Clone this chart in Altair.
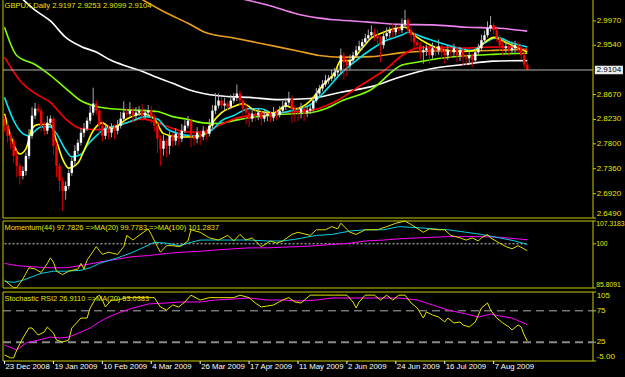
import altair as alt
import pandas as pd

# ---------------- data ----------------
close = [
    2.8120, 2.7942, 2.7854, 2.7587, 2.7410, 2.7232, 2.7321, 2.7587, 2.7942, 2.8298,
    2.8422, 2.8386, 2.8120, 2.8031, 2.8173, 2.8244, 2.7765, 2.7410, 2.7143, 2.6966,
    2.7054, 2.7285, 2.7498, 2.7676, 2.7818, 2.7996, 2.8067, 2.8209, 2.8351, 2.8511,
    2.8386, 2.8120, 2.7942, 2.8067, 2.7996, 2.8084, 2.8031, 2.8120, 2.8244, 2.8351,
    2.8330, 2.8386, 2.8298, 2.8351, 2.8386, 2.8298, 2.8351, 2.8386, 2.8280, 2.8120,
    2.7889, 2.7712, 2.7854, 2.7765, 2.7942, 2.7854, 2.7978, 2.7889, 2.8031, 2.8120,
    2.8209, 2.7942, 2.7889, 2.7996, 2.7925, 2.8031, 2.7978, 2.8120, 2.8386, 2.8475,
    2.8564, 2.8475, 2.8511, 2.8457, 2.8564, 2.8617, 2.8688, 2.8564, 2.8422, 2.8351,
    2.8244, 2.8333, 2.8298, 2.8351, 2.8244, 2.8298, 2.8333, 2.8262, 2.8351, 2.8315,
    2.8386, 2.8457, 2.8528, 2.8600, 2.8422, 2.8386, 2.8351, 2.8422, 2.8351, 2.8386,
    2.8422, 2.8564, 2.8688, 2.8777, 2.8848, 2.8919, 2.8955, 2.8990, 2.9061, 2.9097,
    2.9363, 2.9239, 2.9186, 2.9274, 2.9363, 2.9452, 2.9523, 2.9594, 2.9665, 2.9718,
    2.9772, 2.9718, 2.9665, 2.9541, 2.9701, 2.9754, 2.9807, 2.9772, 2.9843, 2.9807,
    2.9914, 2.9985, 2.9807, 2.9718, 2.9594, 2.9541, 2.9416, 2.9452, 2.9488, 2.9363,
    2.9488, 2.9452, 2.9523, 2.9416, 2.9363, 2.9452, 2.9416, 2.9488, 2.9363, 2.9452,
    2.9328, 2.9310, 2.9363, 2.9274, 2.9416, 2.9488, 2.9630, 2.9718, 2.9843, 2.9896,
    2.9807, 2.9665, 2.9541, 2.9488, 2.9523, 2.9452, 2.9488, 2.9541, 2.9505, 2.9363,
    2.9197, 2.9104,
]
open_first = 2.8240
wick_up = [
    0.006, 0.008, 0.005, 0.007, 0.010, 0.006, 0.008, 0.006, 0.012, 0.015,
    0.010, 0.008, 0.006, 0.007, 0.012, 0.006, 0.004, 0.006, 0.005, 0.006,
    0.008, 0.006, 0.005, 0.010, 0.006, 0.008, 0.010, 0.006, 0.012, 0.028,
    0.006, 0.004, 0.008, 0.010, 0.006, 0.008, 0.006, 0.010, 0.012, 0.020,
    0.008, 0.015, 0.006, 0.010, 0.008, 0.012, 0.006, 0.010, 0.008, 0.004,
    0.005, 0.006, 0.010, 0.004, 0.008, 0.006, 0.010, 0.004, 0.012, 0.010,
    0.008, 0.004, 0.006, 0.010, 0.004, 0.008, 0.006, 0.012, 0.010, 0.022,
    0.012, 0.006, 0.010, 0.005, 0.010, 0.008, 0.016, 0.006, 0.004, 0.008,
    0.006, 0.010, 0.006, 0.008, 0.004, 0.010, 0.006, 0.004, 0.010, 0.006,
    0.008, 0.010, 0.008, 0.012, 0.006, 0.006, 0.006, 0.010, 0.004, 0.008,
    0.006, 0.008, 0.010, 0.006, 0.008, 0.010, 0.006, 0.012, 0.008, 0.006,
    0.012, 0.006, 0.008, 0.010, 0.006, 0.008, 0.010, 0.006, 0.008, 0.010,
    0.012, 0.006, 0.010, 0.004, 0.008, 0.010, 0.006, 0.012, 0.008, 0.006,
    0.010, 0.018, 0.004, 0.006, 0.005, 0.004, 0.006, 0.008, 0.006, 0.004,
    0.010, 0.006, 0.012, 0.004, 0.006, 0.010, 0.004, 0.008, 0.004, 0.006,
    0.004, 0.006, 0.008, 0.004, 0.006, 0.008, 0.010, 0.008, 0.012, 0.016,
    0.004, 0.004, 0.006, 0.008, 0.010, 0.004, 0.012, 0.008, 0.006, 0.004,
    0.006, 0.0056,
]
wick_dn = [
    0.010, 0.012, 0.015, 0.012, 0.020, 0.015, 0.006, 0.008, 0.006, 0.005,
    0.006, 0.004, 0.010, 0.008, 0.006, 0.005, 0.015, 0.020, 0.018, 0.035,
    0.015, 0.006, 0.005, 0.008, 0.006, 0.005, 0.008, 0.004, 0.006, 0.005,
    0.008, 0.015, 0.010, 0.006, 0.012, 0.008, 0.015, 0.006, 0.005, 0.004,
    0.006, 0.005, 0.012, 0.008, 0.006, 0.010, 0.006, 0.008, 0.012, 0.010,
    0.025, 0.030, 0.012, 0.020, 0.015, 0.010, 0.008, 0.012, 0.006, 0.004,
    0.005, 0.020, 0.012, 0.008, 0.015, 0.006, 0.012, 0.005, 0.004, 0.006,
    0.005, 0.006, 0.008, 0.006, 0.004, 0.005, 0.006, 0.010, 0.012, 0.020,
    0.015, 0.006, 0.010, 0.008, 0.012, 0.006, 0.010, 0.008, 0.006, 0.010,
    0.005, 0.004, 0.006, 0.005, 0.025, 0.020, 0.015, 0.010, 0.015, 0.008,
    0.006, 0.005, 0.004, 0.006, 0.005, 0.004, 0.006, 0.005, 0.004, 0.006,
    0.006, 0.030, 0.020, 0.008, 0.006, 0.005, 0.004, 0.006, 0.005, 0.004,
    0.005, 0.010, 0.012, 0.030, 0.006, 0.005, 0.008, 0.010, 0.006, 0.008,
    0.005, 0.006, 0.008, 0.012, 0.015, 0.010, 0.012, 0.020, 0.010, 0.015,
    0.006, 0.010, 0.008, 0.012, 0.015, 0.008, 0.010, 0.006, 0.012, 0.010,
    0.015, 0.012, 0.010, 0.012, 0.006, 0.005, 0.004, 0.005, 0.004, 0.006,
    0.008, 0.006, 0.010, 0.012, 0.008, 0.010, 0.006, 0.008, 0.010, 0.008,
    0.006, 0.0005,
]

# moving averages on the price panel (bar index, price)
ma_yellow_i = [0, 2, 5, 7, 9, 11, 15, 17, 19, 21, 24, 26, 29, 32, 35, 40, 45, 49, 52, 57,
               62, 66, 68, 71, 75, 78, 82, 88, 92, 95, 100, 104, 108, 110, 113, 117, 120, 124, 128, 131,
               134, 138, 143, 150, 154, 157, 160, 164, 171]
ma_yellow_v = [2.833, 2.794, 2.762, 2.771, 2.807, 2.814, 2.814, 2.785, 2.753, 2.737,
               2.746, 2.768, 2.803, 2.817, 2.807, 2.824, 2.833, 2.824, 2.798, 2.792,
               2.792, 2.800, 2.817, 2.835, 2.846, 2.851, 2.839, 2.835, 2.847, 2.842,
               2.856, 2.883, 2.906, 2.927, 2.927, 2.949, 2.967, 2.977, 2.984, 2.986,
               2.972, 2.958, 2.947, 2.943, 2.945, 2.959, 2.968, 2.959, 2.942]
ma_cyan_i = [0, 3, 6, 8, 10, 12, 15, 17, 20, 22, 25, 27, 30, 33, 37, 42, 46, 50, 53, 57,
             62, 66, 68, 71, 75, 80, 84, 88, 95, 100, 105, 110, 115, 120, 125, 130, 132, 137, 145, 153,
             157, 161, 166, 171]
ma_cyan_v = [2.862, 2.821, 2.798, 2.794, 2.803, 2.810, 2.810, 2.798, 2.769, 2.757,
             2.761, 2.777, 2.794, 2.807, 2.812, 2.821, 2.828, 2.824, 2.807, 2.798,
             2.794, 2.798, 2.805, 2.821, 2.830, 2.842, 2.842, 2.833, 2.840, 2.849,
             2.874, 2.904, 2.927, 2.947, 2.963, 2.972, 2.977, 2.968, 2.954, 2.945,
             2.958, 2.968, 2.958, 2.951]
ma_red_i = [0, 5, 10, 15, 20, 25, 30, 35, 40, 45, 50, 55, 60, 65, 70, 75, 80, 90, 100, 105,
            110, 115, 120, 125, 130, 135, 140, 150, 160, 165, 171]
ma_red_v = [2.933, 2.892, 2.869, 2.853, 2.824, 2.807, 2.805, 2.810, 2.817, 2.824,
            2.817, 2.807, 2.801, 2.801, 2.812, 2.824, 2.830, 2.835, 2.839, 2.847,
            2.860, 2.878, 2.895, 2.913, 2.936, 2.949, 2.951, 2.949, 2.951, 2.951, 2.945]
ma_green_i = [0, 4, 10, 15, 20, 25, 30, 35, 40, 45, 50, 55, 60, 65, 70, 75, 80, 90, 100, 105,
              110, 120, 130, 135, 140, 150, 160, 171]
ma_green_v = [2.986, 2.936, 2.920, 2.901, 2.878, 2.856, 2.846, 2.842, 2.840, 2.839,
              2.837, 2.828, 2.823, 2.817, 2.816, 2.821, 2.826, 2.832, 2.835, 2.842,
              2.855, 2.876, 2.919, 2.924, 2.929, 2.935, 2.938, 2.940]
ma_white_i = [5, 10, 15, 20, 25, 30, 35, 40, 45, 50, 55, 60, 65, 70, 80, 90, 100, 110, 120, 130,
              140, 150, 160, 171]
ma_white_v = [3.040, 3.016, 2.997, 2.968, 2.952, 2.942, 2.927, 2.917, 2.908, 2.897,
              2.887, 2.876, 2.869, 2.865, 2.862, 2.858, 2.860, 2.871, 2.881, 2.899,
              2.913, 2.920, 2.926, 2.927]
ma_orange_i = [44, 53, 60, 66, 75, 86, 96, 103, 110, 120, 130, 140, 150, 160, 171]
ma_orange_v = [3.038, 3.011, 2.993, 2.976, 2.967, 2.955, 2.944, 2.936, 2.933, 2.934,
               2.941, 2.944, 2.944, 2.945, 2.947]
ma_pink_i = [76, 86, 96, 103, 108, 119, 129, 140, 151, 162, 171]
ma_pink_v = [3.038, 3.025, 3.009, 3.002, 2.999, 2.995, 2.991, 2.990, 2.986, 2.984, 2.979]

# momentum panel
mom_i = [0, 3, 4, 6, 8, 10, 12, 14, 15, 16, 17, 19, 21, 24, 25, 26, 27, 29, 30, 32,
         34, 37, 39, 40, 42, 44, 47, 48, 50, 51, 53, 55, 57, 58, 60, 61, 64, 67, 70, 73,
         75, 77, 79, 81, 84, 87, 89, 91, 94, 96, 100, 102, 105, 107, 109, 110, 113, 115, 118, 122,
         125, 128, 131, 133, 137, 139, 142, 144, 146, 149, 151, 153, 155, 156, 158, 159, 162, 164, 166, 168,
         171]
mom_v = [88.3, 85.9, 85.9, 88.7, 92.3, 91.9, 90.8, 93.7, 95.5, 94.1,
         91.2, 90.1, 91.2, 91.9, 93.7, 91.9, 94.8, 97.6, 99.1, 96.6,
         97.3, 96.6, 99.1, 102.7, 101.2, 102.7, 104.8, 103.0, 99.1, 97.3,
         99.4, 99.4, 99.1, 99.4, 100.9, 104.5, 103.7, 101.9, 101.2, 102.7,
         100.9, 103.0, 101.2, 101.9, 99.1, 100.9, 100.2, 100.9, 103.0, 103.7,
         102.7, 104.5, 104.5, 105.5, 104.8, 106.6, 103.7, 103.0, 104.5, 104.5,
         105.5, 106.6, 107.3, 106.2, 103.7, 104.8, 104.5, 104.5, 102.7, 101.9,
         101.2, 101.9, 100.9, 101.9, 103.0, 101.9, 100.2, 99.1, 98.4, 99.4,
         97.8]
mom_ma20_i = [0, 3, 6, 9, 12, 16, 20, 25, 28, 31, 37, 42, 46, 49, 53, 57, 60, 64, 69, 75,
              80, 86, 91, 96, 102, 107, 113, 118, 124, 129, 135, 140, 145, 151, 156, 162, 167, 171]
mom_ma20_v = [88.0, 87.6, 88.3, 89.4, 90.5, 91.2, 91.2, 91.5, 92.3, 93.7,
              95.5, 97.3, 99.1, 100.5, 100.2, 99.4, 100.2, 101.2, 101.2, 101.2,
              101.2, 100.9, 100.9, 101.6, 102.7, 103.0, 104.1, 104.5, 104.5, 105.5,
              105.2, 104.8, 104.5, 103.7, 103.0, 101.9, 100.9, 99.8]
mom_ma100_i = [0, 4, 9, 15, 20, 25, 31, 37, 42, 47, 53, 58, 64, 69, 75, 80, 86, 91, 96, 102,
               107, 113, 118, 124, 129, 135, 140, 145, 151, 156, 162, 171]
mom_ma100_v = [93.7, 93.0, 92.6, 92.3, 92.3, 93.0, 94.1, 95.1, 95.9, 96.2,
               96.9, 97.3, 97.6, 98.0, 98.4, 98.7, 98.7, 98.9, 99.1, 99.4,
               99.8, 100.2, 100.9, 101.2, 101.6, 101.9, 102.1, 102.3, 102.3, 102.3,
               102.1, 101.3]

# stochastic RSI panel
sto_i = [0, 2, 3, 4, 6, 8, 9, 11, 13, 14, 16, 17, 19, 21, 22, 25, 27, 28, 30, 31,
         32, 33, 35, 37, 40, 43, 46, 49, 51, 53, 55, 57, 59, 61, 64, 67, 70, 75, 77, 80,
         82, 84, 88, 91, 93, 95, 97, 100, 103, 105, 108, 112, 114, 115, 116, 118, 121, 123, 125, 127,
         129, 131, 133, 135, 137, 138, 140, 142, 144, 145, 147, 149, 150, 152, 154, 156, 158, 159, 161, 163,
         165, 166, 168, 169, 170, 171]
sto_v = [4.5, 0, 0, 12.5, 31.6, 47.6, 47.6, 36.4, 41.2, 49.2,
         39.6, 28.4, 25.3, 28.4, 47.6, 63.5, 63.5, 79.5, 96, 100,
         92.2, 81.1, 92.2, 92.2, 96, 96, 96, 96, 81.1, 76.3,
         84.3, 81.1, 89.1, 100, 92.2, 96, 96, 96, 100, 96,
         87.5, 81.1, 84.3, 92.2, 96, 89.1, 87.5, 100, 100, 100,
         100, 100, 89.1, 79.5, 89.1, 100, 100, 92.2, 100, 92.2,
         100, 100, 87.5, 79.5, 63.5, 73.1, 68.3, 65.1, 57.2, 63.5,
         55.6, 57.2, 52.4, 49.2, 57.2, 79.5, 87.5, 76.3, 63.5, 55.6,
         49.2, 44.4, 52.4, 49.2, 36.4, 26.9]
sto_ma_i = [0, 4, 7, 11, 15, 18, 21, 25, 28, 31, 34, 38, 42, 47, 53, 58, 64, 69, 75, 80,
            86, 91, 96, 102, 107, 118, 129, 135, 140, 145, 151, 155, 159, 162, 166, 171]
sto_ma_v = [20.5, 12.5, 23.7, 28.4, 33.2, 31.6, 33.2, 41.2, 47.6, 57.2,
            65.1, 73.1, 79.5, 85.9, 87.5, 89.1, 89.1, 92.2, 93.8, 95.4,
            92.2, 92.2, 90.6, 92.2, 95.4, 95.4, 95.4, 92.2, 84.3, 76.3,
            69.9, 65.1, 69.9, 66.7, 63.5, 53.0]

# texts and ticks
symbol_text = "GBPUX,Daily  2.9197 2.9253 2.9099 2.9104"
mom_text = "Momentum(44) 97.7826  =>MA(20) 99.7783  =>MA(100) 101.2837"
sto_text = "Stochastic RSI2 26.9110  =>MA(20) 53.0383"
date_labels = ["23 Dec 2008", "19 Jan 2009", "10 Feb 2009", "4 Mar 2009", "26 Mar 2009",
               "17 Apr 2009", "11 May 2009", "2 Jun 2009", "24 Jun 2009", "16 Jul 2009",
               "7 Aug 2009"]
date_step = 16
main_ticks = [2.9970, 2.9540, 2.8670, 2.8230, 2.7800, 2.7360, 2.6920, 2.6490]
main_tick_labels = ["2.9970", "2.9540", "2.8670", "2.8230", "2.7800", "2.7360", "2.6920", "2.6490"]
last_price = 2.9104
mom_ticks = [107.3183, 100, 85.8091]
mom_tick_labels = ["107.3183", "100", "85.8091"]
mom_level = 100
sto_ticks = [105, 75, 25, -5]
sto_tick_labels = ["105", "75", "25", "-5.00"]
sto_levels = [75, 25]

# ---------------- layout / style ----------------
FONT = "Liberation Sans"
TXT = "#e6e600"
FRAME = "#c8c800"
X_DOM = [-0.5, 192.5]
LBL_X = X_DOM[1] + 1.2      # axis label column (in bar units, right of the plot)
TICK_X2 = X_DOM[1] + 1.0    # end of the short axis ticks
MAIN_DOM, MAIN_RANGE = [2.6490, 3.0340], [218, 0]
MOM_DOM, MOM_RANGE = [85.8091, 107.3183], [288, 221]
STO_DOM, STO_RANGE = [-5, 105], [361, 292]
DATE_LBL_V = -14.4          # stochastic-scale position of the date labels (below the panel)
DATE_TICK_V = -9.8

xs = alt.Scale(domain=X_DOM, nice=False, zero=False, padding=0)


def X(field):
    return alt.X(f"{field}:Q", scale=xs, axis=None)


def yscale(dom, rng):
    return alt.Scale(domain=dom, range=rng, nice=False, zero=False)


ys_main = yscale(MAIN_DOM, MAIN_RANGE)
ys_mom = yscale(MOM_DOM, MOM_RANGE)
ys_sto = yscale(STO_DOM, STO_RANGE)


def Y(field, sc):
    return alt.Y(f"{field}:Q", scale=sc, axis=None)


def right_axis(values, labels, sc, top_flush=False, bottom_flush=False, size=8, lx=LBL_X):
    df = pd.DataFrame({"v": values, "t": labels, "x1": [X_DOM[1]] * len(values),
                       "x2": [TICK_X2] * len(values), "xl": [lx] * len(values)})
    parts = [alt.Chart(df).mark_rule(color=FRAME, strokeWidth=1).encode(
        x=X("x1"), x2="x2:Q", y=Y("v", sc))]
    n = len(df)
    lo = 1 if top_flush else 0
    hi = n - 1 if bottom_flush else n
    groups = [(df.iloc[lo:hi], "middle")]
    if top_flush:
        groups.append((df.iloc[[0]], "top"))
    if bottom_flush:
        groups.append((df.iloc[[n - 1]], "bottom"))
    for d, base in groups:
        parts.append(alt.Chart(d).mark_text(align="left", baseline=base, color=TXT, font=FONT,
                                            fontSize=size).encode(x=X("xl"), y=Y("v", sc), text="t:N"))
    return parts


# ---------------- price panel ----------------
opens = [open_first] + close[:-1]
cand = pd.DataFrame({"i": list(range(len(close))), "open": opens, "close": close})
cand["high"] = [max(o, c) + u for o, c, u in zip(opens, close, wick_up)]
cand["low"] = [min(o, c) - d for o, c, d in zip(opens, close, wick_dn)]
cand["bc"] = ["#ffffff" if c >= o else "#ff0000" for o, c in zip(opens, close)]
cand["wc"] = ["#a8a8a8" if c >= o else "#c80000" for o, c in zip(opens, close)]

ma_rows = []
for name, ii, vv, col in [
    ("pink", ma_pink_i, ma_pink_v, "#ee82ee"),
    ("orange", ma_orange_i, ma_orange_v, "#e8a020"),
    ("white", ma_white_i, ma_white_v, "#ffffff"),
    ("green", ma_green_i, ma_green_v, "#80ff00"),
    ("red", ma_red_i, ma_red_v, "#ff0000"),
    ("cyan", ma_cyan_i, ma_cyan_v, "#00e5ee"),
    ("yellow", ma_yellow_i, ma_yellow_v, "#ffff00"),
]:
    for a, b in zip(ii, vv):
        ma_rows.append({"name": name, "i": a, "v": b, "col": col})
ma_df = pd.DataFrame(ma_rows)

price_line = alt.Chart(pd.DataFrame({"x1": [X_DOM[0]], "x2": [X_DOM[1]], "p": [last_price]})).mark_rule(
    color="#b4b4b4", strokeWidth=1).encode(x=X("x1"), x2="x2:Q", y=Y("p", ys_main))

ma_lines = alt.Chart(ma_df).mark_line(strokeWidth=1.6, clip=True, interpolate="monotone").encode(
    x=X("i"), y=Y("v", ys_main), color=alt.Color("col:N", scale=None), detail="name:N", order="i:Q")

wicks = alt.Chart(cand).mark_rule(strokeWidth=1).encode(
    x=X("i"), y=Y("low", ys_main), y2="high:Q", color=alt.Color("wc:N", scale=None))

bodies = alt.Chart(cand).mark_bar(size=2.4).encode(
    x=X("i"), y=Y("open", ys_main), y2="close:Q", color=alt.Color("bc:N", scale=None))

main_frame = alt.Chart(pd.DataFrame({
    "x1": [X_DOM[0], X_DOM[0], X_DOM[1]], "x2": [X_DOM[0], X_DOM[1], X_DOM[1]],
    "y1": [MAIN_DOM[0], MAIN_DOM[0], MAIN_DOM[0]], "y2": [MAIN_DOM[1], MAIN_DOM[0], MAIN_DOM[1]],
})).mark_rule(color=FRAME, strokeWidth=1).encode(x=X("x1"), x2="x2:Q", y=Y("y1", ys_main), y2="y2:Q")

main_title = alt.Chart(pd.DataFrame({"x": [0.0], "y": [3.0235], "t": [symbol_text]})).mark_text(
    align="left", baseline="middle", color=TXT, font=FONT, fontSize=7.6).encode(
    x=X("x"), y=Y("y", ys_main), text="t:N")

box_df = pd.DataFrame({"x1": [X_DOM[1] + 0.6], "x2": [X_DOM[1] + 9.8], "y1": [last_price - 0.0075],
                       "y2": [last_price + 0.0075], "xt": [LBL_X], "p": [last_price],
                       "t": [f"{last_price:.4f}"]})
price_box = alt.Chart(box_df).mark_rect(color="#ececec").encode(
    x=X("x1"), x2="x2:Q", y=Y("y1", ys_main), y2="y2:Q")
price_box_txt = alt.Chart(box_df).mark_text(align="left", baseline="middle", color="black",
                                            font=FONT, fontSize=8).encode(
    x=X("xt"), y=Y("p", ys_main), text="t:N")

main = alt.layer(ma_lines, wicks, bodies, price_line, main_frame, main_title,
                 *right_axis(main_ticks, main_tick_labels, ys_main, bottom_flush=True),
                 price_box, price_box_txt)

# ---------------- momentum panel ----------------
mom_rows = []
for name, ii, vv, col in [
    ("ma100", mom_ma100_i, mom_ma100_v, "#ff00ff"),
    ("ma20", mom_ma20_i, mom_ma20_v, "#00d0e0"),
    ("mom", mom_i, mom_v, "#dede00"),
]:
    for a, b in zip(ii, vv):
        mom_rows.append({"name": name, "i": a, "v": b, "col": col})
mom_df = pd.DataFrame(mom_rows)

mom_frame = alt.Chart(pd.DataFrame({"x1": [X_DOM[0]], "x2": [X_DOM[1]],
                                    "y1": [MOM_DOM[0]], "y2": [MOM_DOM[1]]})).mark_rect(
    fillOpacity=0, stroke=FRAME, strokeWidth=1).encode(x=X("x1"), x2="x2:Q", y=Y("y1", ys_mom), y2="y2:Q")

mom_lvl = alt.Chart(pd.DataFrame({"x1": [0], "x2": [len(close) - 1], "v": [mom_level]})).mark_rule(
    color="#d0d0d0", strokeWidth=1, strokeDash=[2, 2]).encode(x=X("x1"), x2="x2:Q", y=Y("v", ys_mom))

mom_lines = alt.Chart(mom_df).mark_line(strokeWidth=1, clip=True).encode(
    x=X("i"), y=Y("v", ys_mom), color=alt.Color("col:N", scale=None), detail="name:N", order="i:Q")

mom_title = alt.Chart(pd.DataFrame({"x": [0.0], "y": [105.0], "t": [mom_text]})).mark_text(
    align="left", baseline="middle", color=TXT, font=FONT, fontSize=7.4).encode(
    x=X("x"), y=Y("y", ys_mom), text="t:N")

mom = alt.layer(mom_frame, mom_lvl, mom_lines, mom_title,
                *right_axis(mom_ticks, mom_tick_labels, ys_mom, top_flush=True, bottom_flush=True,
                            size=6.8, lx=X_DOM[1] + 1.05))

# ---------------- stochastic panel ----------------
sto_rows = []
for name, ii, vv, col in [
    ("ma", sto_ma_i, sto_ma_v, "#ff00ff"),
    ("sto", sto_i, sto_v, "#e6e600"),
]:
    for a, b in zip(ii, vv):
        sto_rows.append({"name": name, "i": a, "v": b, "col": col})
sto_df = pd.DataFrame(sto_rows)

sto_frame = alt.Chart(pd.DataFrame({"x1": [X_DOM[0]], "x2": [X_DOM[1]],
                                    "y1": [STO_DOM[0]], "y2": [STO_DOM[1]]})).mark_rect(
    fillOpacity=0, stroke=FRAME, strokeWidth=1).encode(x=X("x1"), x2="x2:Q", y=Y("y1", ys_sto), y2="y2:Q")

lvl_df = pd.DataFrame({"x1": [X_DOM[0]] * 2, "x2": [X_DOM[1]] * 2, "v": sto_levels})
sto_lvl_hi = alt.Chart(lvl_df.iloc[[0]]).mark_rule(
    color="#b0b0b0", strokeWidth=1, strokeDash=[8, 5]).encode(x=X("x1"), x2="x2:Q", y=Y("v", ys_sto))
sto_lvl_lo = alt.Chart(lvl_df.iloc[[1]]).mark_rule(
    color="#8a8a8a", strokeWidth=2, strokeDash=[8, 5]).encode(x=X("x1"), x2="x2:Q", y=Y("v", ys_sto))

sto_lines = alt.Chart(sto_df).mark_line(strokeWidth=1, clip=True).encode(
    x=X("i"), y=Y("v", ys_sto), color=alt.Color("col:N", scale=None), detail="name:N", order="i:Q")

sto_title = alt.Chart(pd.DataFrame({"x": [0.0], "y": [94.0], "t": [sto_text]})).mark_text(
    align="left", baseline="middle", color=TXT, font=FONT, fontSize=7.4).encode(
    x=X("x"), y=Y("y", ys_sto), text="t:N")

date_df = pd.DataFrame({"i": [k * date_step for k in range(len(date_labels))], "t": date_labels,
                        "v": [DATE_LBL_V] * len(date_labels), "v1": [STO_DOM[0]] * len(date_labels),
                        "v2": [DATE_TICK_V] * len(date_labels)})
date_ticks = alt.Chart(date_df).mark_rule(color="#ffffff", strokeWidth=1).encode(
    x=X("i"), y=Y("v1", ys_sto), y2="v2:Q")
date_text = alt.Chart(date_df).mark_text(align="left", baseline="middle", color="#ffffff", font=FONT,
                                         fontSize=7.8, dx=1).encode(x=X("i"), y=Y("v", ys_sto), text="t:N")

sto = alt.layer(sto_frame, sto_lvl_hi, sto_lvl_lo, sto_lines, sto_title,
                *right_axis(sto_ticks, sto_tick_labels, ys_sto, top_flush=True, bottom_flush=True),
                date_ticks, date_text)

chart = alt.layer(main, mom, sto).resolve_scale(y="independent").properties(
    width=590, height=361, background="black",
    padding={"left": 3, "top": 0, "right": 32, "bottom": 16},
    autosize=alt.AutoSizeParams(type="none"),
).configure_view(stroke=None)

chart.save("out.html", embed_options={"renderer": "svg", "actions": False})
